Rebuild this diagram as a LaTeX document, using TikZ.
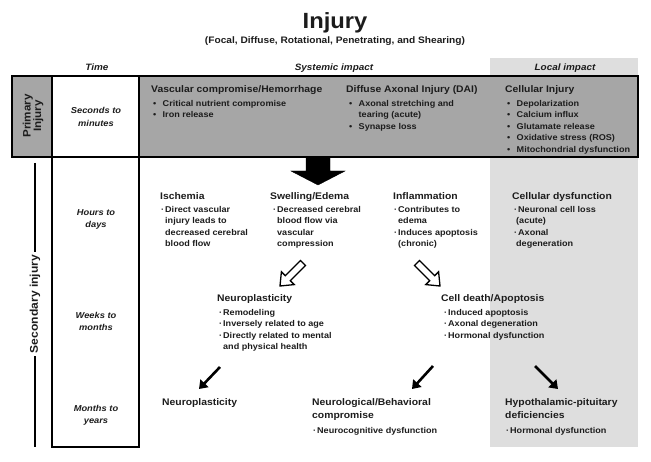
\documentclass[tikz,border=0pt]{standalone}
\usepackage{fontspec}
\setmainfont{Liberation Sans}[FakeStretch=1.08]
\usetikzlibrary{arrows.meta}
\definecolor{dkgray}{HTML}{A6A6A6}
\definecolor{ltgray}{HTML}{DEDEDE}
\definecolor{ink}{HTML}{1C1C1C}
\newcommand\pbul{\makebox[9.5pt][l]{\textbullet}}
\newcommand\sbul{\makebox[4pt][l]{·}}
\begin{document}
\begin{tikzpicture}[x=1pt,y=-1pt,
  txt/.style={inner sep=0pt, anchor=base west, text=ink, font=\bfseries\fontsize{8.4}{10}\selectfont},
  ttl/.style={txt, font=\bfseries\fontsize{9.6}{11}\selectfont},
  hdr/.style={inner sep=0pt, anchor=base, text=ink, font=\bfseries\itshape\fontsize{9.2}{11}\selectfont},
  tim/.style={inner sep=0pt, align=center, text=ink, font=\bfseries\itshape\fontsize{8.6}{12.5}\selectfont},
  frame/.style={draw=black, line width=1.8pt},
  thinframe/.style={draw=black, line width=1.3pt},
  blockarrow/.style={fill=black, draw=black, line join=miter},
  hollowarrow/.style={fill=white, draw=black, line width=1.3pt, line join=miter},
  thinarrow/.style={draw=black, line width=2.6pt, -{Triangle[length=8pt,width=11pt]}}
]
\useasboundingbox (0,0) rectangle (651,462);
% light local-impact panel
\fill[ltgray] (490,58) rectangle (638,447);
% title
\node[inner sep=0pt, anchor=base, text=ink, font=\bfseries\fontsize{22}{25}\selectfont] (title) at (335,29) {Injury};
\node[inner sep=0pt, anchor=base, text=ink, font=\bfseries\fontsize{9.4}{11}\selectfont] (subtitle) at (335,44) {(Focal, Diffuse, Rotational, Penetrating, and Shearing)};
% headers
\node[hdr] (htime) at (97,70.5) {Time};
\node[hdr] (hsys) at (334,70.5) {Systemic impact};
\node[hdr] (hloc) at (565,70.5) {Local impact};
% primary injury band
\fill[dkgray] (12,76) rectangle (638,157);
\fill[white] (52,76) rectangle (139,157);
\draw[thinframe] (52,157) rectangle (139,447);
\draw[frame] (12,76) rectangle (638,157);
\draw[frame] (52,76) -- (52,157);
\draw[frame] (139,76) -- (139,157);
\node[inner sep=0pt, rotate=90, align=center, text=ink, font=\bfseries\fontsize{10.8}{10.5}\selectfont] (prim) at (33,116) {Primary\\Injury};
% secondary injury label
\node[inner sep=0pt, rotate=90, text=ink, font=\bfseries\fontsize{11.2}{12}\selectfont] (sec) at (35,304) {Secondary injury};
\coordinate (secTop) at (35,163);
\coordinate (secBot) at (35,447);
\draw[thinframe] (secTop) -- ([xshift=0pt,yshift=3pt]sec.east);
\draw[thinframe] ([yshift=-3pt]sec.west) -- (secBot);
% time labels
\node[tim] (t1) at (96,117) {Seconds to\\minutes};
\node[tim] (t2) at (96,219.5) {Hours to\\days};
\node[tim] (t3) at (96,321.5) {Weeks to\\months};
\node[tim] (t4) at (96,415.5) {Months to\\years};
% primary content
\node[ttl] (vasc) at (151,93) {Vascular compromise/Hemorrhage};
\node[txt] (vasc1) at (153,106.5) {\pbul Critical nutrient compromise};
\node[txt] (vasc2) at (153,118) {\pbul Iron release};
\node[ttl] (dai) at (346,93) {Diffuse Axonal Injury (DAI)};
\node[txt] (dai1) at (349,106.5) {\pbul Axonal stretching and};
\node[txt] (dai1b) at (358.5,118) {tearing (acute)};
\node[txt] (dai2) at (349,129.5) {\pbul Synapse loss};
\node[ttl] (cel) at (505,93) {Cellular Injury};
\node[txt] (cel1) at (507,106.5) {\pbul Depolarization};
\node[txt] (cel2) at (507,118) {\pbul Calcium influx};
\node[txt] (cel3) at (507,129.5) {\pbul Glutamate release};
\node[txt] (cel4) at (507,141) {\pbul Oxidative stress (ROS)};
\node[txt] (cel5) at (507,152.5) {\pbul Mitochondrial dysfunction};
% big arrow
\draw[blockarrow] (306,157) -- (330,157) -- (330,171) -- (345,171) -- (318,185) -- (291,171) -- (306,171) -- cycle;
% hours to days
\node[ttl] (isch) at (160,199.5) {Ischemia};
\node[txt] (isch1) at (161,212.5) {\sbul Direct vascular};
\node[txt] (isch1b) at (165,224) {injury leads to};
\node[txt] (isch1c) at (165,235.5) {decreased cerebral};
\node[txt] (isch1d) at (165,247) {blood flow};
\node[ttl] (swel) at (270,199.5) {Swelling/Edema};
\node[txt] (swel1) at (273,212.5) {\sbul Decreased cerebral};
\node[txt] (swel1b) at (277,224) {blood flow via};
\node[txt] (swel1c) at (277,235.5) {vascular};
\node[txt] (swel1d) at (277,247) {compression};
\node[ttl] (infl) at (393,199.5) {Inflammation};
\node[txt] (infl1) at (394,212.5) {\sbul Contributes to};
\node[txt] (infl1b) at (398,224) {edema};
\node[txt] (infl2) at (394,235.5) {\sbul Induces apoptosis};
\node[txt] (infl2b) at (398,247) {(chronic)};
\node[ttl] (cdys) at (512,199.5) {Cellular dysfunction};
\node[txt] (cdys1) at (514,212.5) {\sbul Neuronal cell loss};
\node[txt] (cdys1b) at (516,224) {(acute)};
\node[txt] (cdys2) at (514,235.5) {\sbul Axonal};
\node[txt] (cdys2b) at (516,247) {degeneration};
% hollow arrows
\draw[hollowarrow] (305.5,265.5) -- (290.3,280.7) -- (294.2,284.6) -- (280,286) -- (281.4,271.8) -- (285.3,275.7) -- (300.5,260.5) -- cycle;
\draw[hollowarrow] (419.5,260.5) -- (434.7,275.7) -- (438.6,271.8) -- (440,286) -- (425.8,284.6) -- (429.7,280.7) -- (414.5,265.5) -- cycle;
% weeks to months
\node[ttl] (neu) at (217,302) {Neuroplasticity};
\node[txt] (neu1) at (219,315.5) {\sbul Remodeling};
\node[txt] (neu2) at (219,326.8) {\sbul Inversely related to age};
\node[txt] (neu3) at (219,338.1) {\sbul Directly related to mental};
\node[txt] (neu3b) at (223,349.4) {and physical health};
\node[ttl] (cdeath) at (441,302) {Cell death/Apoptosis};
\node[txt] (cd1) at (444,315.5) {\sbul Induced apoptosis};
\node[txt] (cd2) at (444,326.8) {\sbul Axonal degeneration};
\node[txt] (cd3) at (444,338.1) {\sbul Hormonal dysfunction};
% thin arrows
\coordinate (a1s) at (220,367); \coordinate (a1e) at (199,389);
\coordinate (a2s) at (433,366); \coordinate (a2e) at (412,389);
\coordinate (a3s) at (535,366); \coordinate (a3e) at (558,389);
\draw[thinarrow] (a1s) -- (a1e);
\draw[thinarrow] (a2s) -- (a2e);
\draw[thinarrow] (a3s) -- (a3e);
% months to years
\node[ttl] (neuB) at (162,406) {Neuroplasticity};
\node[ttl] (nb) at (312,406) {Neurological/Behavioral};
\node[ttl] (nb2) at (312,418.5) {compromise};
\node[txt] (nb3) at (313,433) {\sbul Neurocognitive dysfunction};
\node[ttl] (hp) at (505,406) {Hypothalamic-pituitary};
\node[ttl] (hp2) at (505,418.5) {deficiencies};
\node[txt] (hp3) at (506,433) {\sbul Hormonal dysfunction};
\end{tikzpicture}
\end{document}
